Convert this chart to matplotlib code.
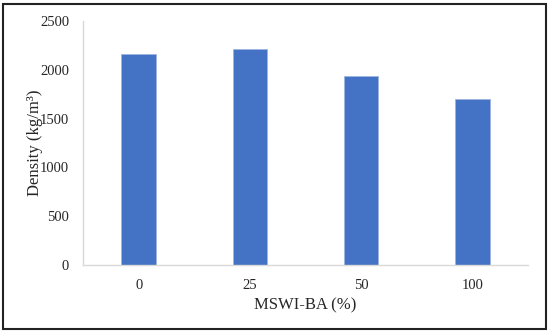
import numpy as np
import matplotlib.pyplot as plt
from matplotlib.patches import Rectangle

categories = ['0', '25', '50', '100']
density = [2160, 2210, 1933, 1698]

plt.rcParams['font.family'] = ['Liberation Serif', 'DejaVu Serif']

fig = plt.figure(figsize=(5.5, 3.34), dpi=100)
ax = fig.add_axes([83 / 550, 1 - 265 / 334, 445 / 550, 244 / 334])

x = np.arange(len(categories))
ax.bar(x, density, width=0.31, color='#4472C4', edgecolor='#9DB5E0', linewidth=0.6)

ax.set_xlim(-0.5, len(categories) - 0.5)
ax.set_ylim(0, 2500)
ax.set_yticks(np.arange(0, 2501, 500))
ax.set_xticks(x)
ax.set_xticklabels(categories)

for side in ['top', 'right']:
    ax.spines[side].set_visible(False)
for side in ['left', 'bottom']:
    ax.spines[side].set_color('#D9D9D9')
    ax.spines[side].set_linewidth(1.0)
ax.tick_params(length=0, labelsize=10.5, colors='#262626')
ax.tick_params(axis='y', pad=10)
ax.tick_params(axis='x', pad=10)

ax.set_xlabel('MSWI-BA (%)', fontsize=12, color='#262626', labelpad=4)
ax.set_ylabel('Density (kg/m³)', fontsize=12, color='#262626', labelpad=-2)

# outer frame around the chart
fig.patches.append(Rectangle((3 / 550, 5 / 334), 543 / 550, 325 / 334,
                             transform=fig.transFigure, fill=False,
                             edgecolor='#222222', linewidth=1.5))

fig.savefig('out.png', dpi=100)
